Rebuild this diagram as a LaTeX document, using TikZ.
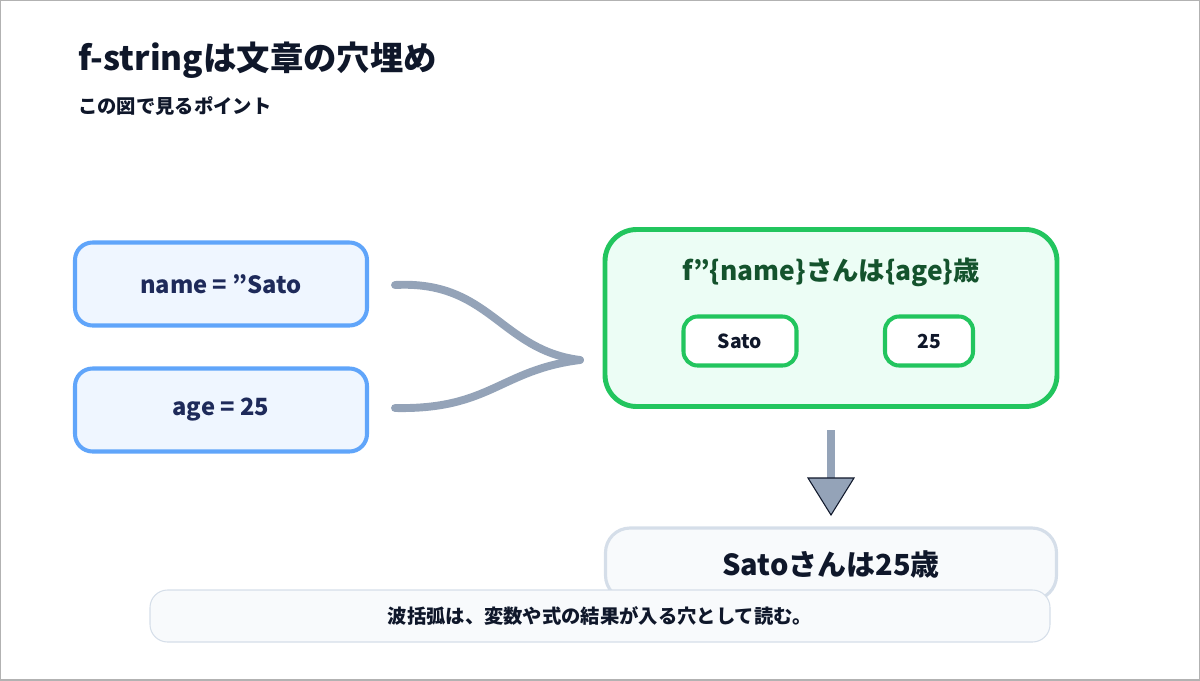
\documentclass[tikz,border=0pt]{standalone}
\usepackage{fontspec}
\setmainfont{Noto Sans CJK JP}
\begin{document}
\begin{tikzpicture}[x=0.02cm,y=-0.02cm,
 inbox/.style={draw=blue1,fill=blue0,line width=2.3pt,rounded corners=10pt,font=\fontsize{13.5}{14}\selectfont\bfseries,text=navy},
 smallbox/.style={draw=green1,fill=white,line width=2.3pt,rounded corners=8pt,font=\fontsize{11}{12}\selectfont\bfseries,text=dark},
 flow/.style={draw=slate,line width=4.5pt,line cap=round}]
\definecolor{blue1}{HTML}{60A5FA}\definecolor{blue0}{HTML}{EFF6FF}
\definecolor{navy}{HTML}{1E2A5A}\definecolor{dark}{HTML}{0F172A}
\definecolor{green1}{HTML}{22C55E}\definecolor{green0}{HTML}{ECFDF5}
\definecolor{slate}{HTML}{94A3B8}\definecolor{lgray}{HTML}{D5DEE9}
\definecolor{bg0}{HTML}{F8FAFC}\definecolor{gtext}{HTML}{14532D}
\useasboundingbox (0,0) rectangle (1200,680);
\draw[gray!60,line width=0.6pt] (0,0) rectangle (1200,680);
\node[anchor=west,text=dark,font=\fontsize{19}{20}\selectfont\bfseries] (title) at (72,60) {f-stringは文章の穴埋め};
\node[anchor=west,text=dark,font=\fontsize{11}{12}\selectfont\bfseries] (sub) at (72,106) {この図で見るポイント};
\node[inbox,minimum width=292*0.02cm,minimum height=83*0.02cm] (n1) at (221,284) {name = "Sato};
\node[inbox,minimum width=292*0.02cm,minimum height=83*0.02cm] (n2) at (221,410) {age = 25};
\node[draw=green1,fill=green0,line width=2.8pt,rounded corners=18pt,minimum width=452*0.02cm,minimum height=177*0.02cm] (tpl) at (831,318) {};
\node[text=gtext,font=\fontsize{15}{16}\selectfont\bfseries] (tpltext) at (831,272) {f"\{name\}さんは\{age\}歳};
\node[smallbox,minimum width=113*0.02cm,minimum height=49*0.02cm] (s1) at (740,341) {Sato};
\node[smallbox,minimum width=88*0.02cm,minimum height=49*0.02cm] (s2) at (929,341) {25};
\coordinate (j) at (580,360);
\coordinate (a1) at (395,285);
\coordinate (a2) at (395,408);
\draw[flow] (a1) .. controls (490,280) and (500,350) .. (j);
\draw[flow] (a2) .. controls (490,410) and (500,370) .. (j);
\coordinate (d1) at (831,430);
\coordinate (d2) at (831,478);
\draw[flow,line cap=butt] (d1) -- (d2);
\draw[fill=slate,draw=dark,line width=0.6pt] (808,478) -- (854,478) -- (831,515) -- cycle;
\node[draw=lgray,fill=bg0,line width=1.8pt,rounded corners=14pt,minimum width=451*0.02cm,minimum height=72*0.02cm,text=dark,font=\fontsize{16.5}{17}\selectfont\bfseries] (res) at (831,564) {Satoさんは25歳};
\node[draw=lgray,fill=bg0,line width=0.6pt,rounded corners=10pt,minimum width=900*0.02cm,minimum height=52*0.02cm,text=dark,font=\fontsize{11}{12}\selectfont\bfseries] (cap) at (600,616) {波括弧は、変数や式の結果が入る穴として読む。};
\end{tikzpicture}
\end{document}
